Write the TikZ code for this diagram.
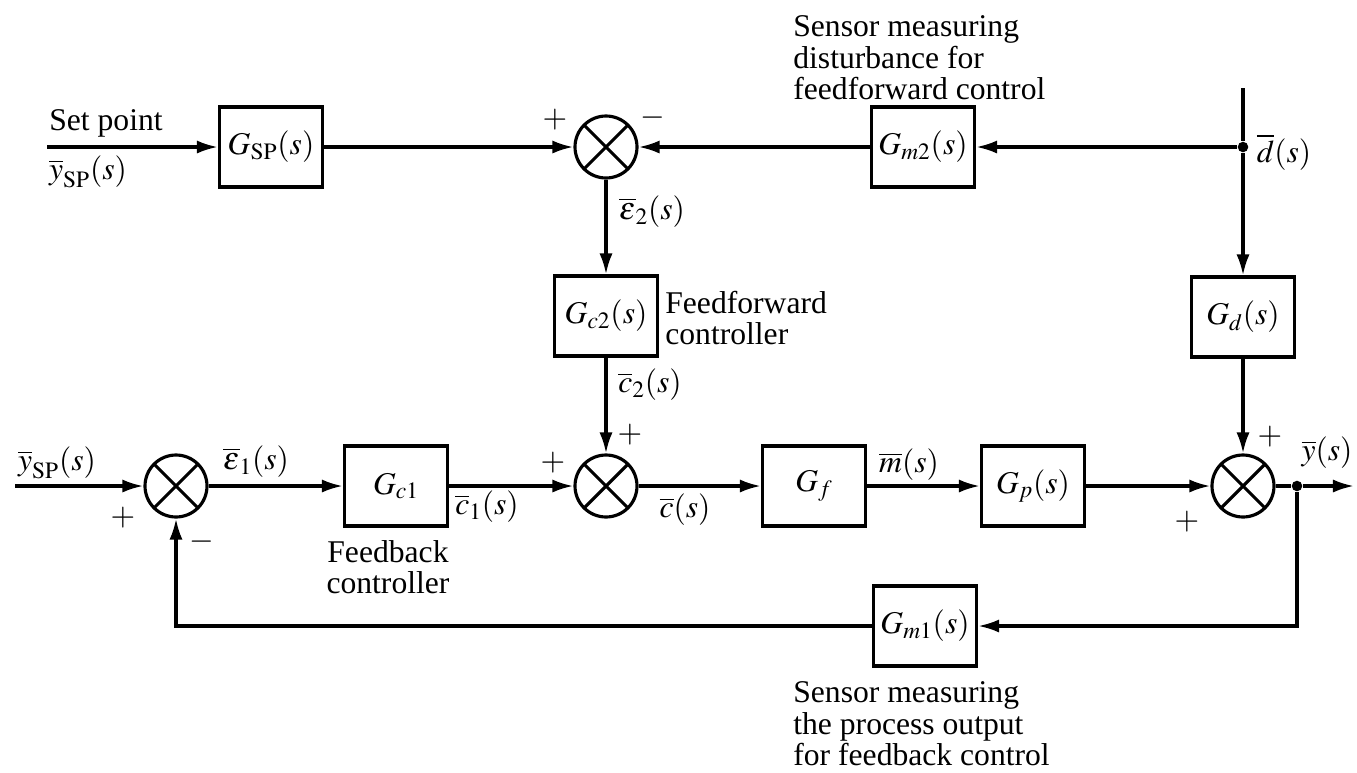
\documentclass[tikz,border=0pt]{standalone}
\usepackage{mathptmx}
\usepackage{fontspec}
\setmainfont{Liberation Serif}
\usetikzlibrary{arrows.meta}

\tikzset{
  blk/.style={draw, line width=1.8pt, minimum width=2.06cm, minimum height=1.6cm, inner sep=0pt},
  sumjn/.style={draw, circle, line width=1.8pt, minimum size=1.24cm, inner sep=0pt,
    path picture={\draw[line width=1.8pt]
      (path picture bounding box.north west) -- (path picture bounding box.south east)
      (path picture bounding box.north east) -- (path picture bounding box.south west);}},
  dot/.style={circle, fill, inner sep=0pt, minimum size=6pt},
  sig/.style={-{Latex[length=12pt,width=7.5pt]}, line width=1.8pt},
  wire/.style={line width=1.8pt},
  lbl/.style={inner sep=0pt},
  note/.style={inner sep=0pt, align=left},
}

\begin{document}
\begin{tikzpicture}[x=0.02cm, y=-0.02cm, font=\fontsize{18}{18}\selectfont]

% Parameters (pixel grid)
\def\ytop{147}   % upper signal row
\def\ybot{486}   % main loop row
\def\yfb{626}    % feedback row
\def\xd{1243}    % disturbance branch

\useasboundingbox (0,0) rectangle (1357,772);

% Upper row: set point and feedforward
\coordinate (spin) at (47,\ytop);
\node[blk] (gsp) at (271,\ytop) {$G_{\mathrm{SP}}(s)$};
\node[sumjn] (s1) at (606,\ytop) {};
\node[blk] (gm2) at (923,\ytop) {$G_{m2}(s)$};
\coordinate (dtop) at (\xd,88);
\node[dot] (djn) at (\xd,\ytop) {};
\node[blk] (gc2) at (606,316) {$G_{c2}(s)$};
\node[blk] (gd) at (\xd,317) {$G_d(s)$};

% Main loop
\coordinate (yspin) at (15,\ybot);
\node[sumjn] (s0) at (176,\ybot) {};
\node[blk] (gc1) at (396,\ybot) {$G_{c1}$};
\node[sumjn] (s2) at (606,\ybot) {};
\node[blk] (gf) at (814,\ybot) {$G_f$};
\node[blk] (gp) at (1033,\ybot) {$G_p(s)$};
\node[sumjn] (s3) at (\xd,\ybot) {};
\node[dot] (yjn) at (1297,\ybot) {};
\coordinate (yout) at (1354,\ybot);
\node[blk] (gm1) at (925,\yfb) {$G_{m1}(s)$};

% Connectors
\draw[sig] (spin) -- (gsp);
\draw[sig] (gsp) -- (s1);
\draw[sig] (gm2) -- (s1);
\draw[sig] (djn) -- (gm2);
\draw[wire] (dtop) -- (djn);
\draw[sig] (djn) -- (gd);
\draw[sig] (s1) -- (gc2);
\draw[sig] (gc2) -- (s2);
\draw[sig] (yspin) -- (s0);
\draw[sig] (s0) -- (gc1);
\draw[sig] (gc1) -- (s2);
\draw[sig] (s2) -- (gf);
\draw[sig] (gf) -- (gp);
\draw[sig] (gp) -- (s3);
\draw[sig] (gd) -- (s3);
\draw[wire] (s3) -- (yjn);
\draw[sig] (yjn) -- (yout);
\draw[sig] (yjn) |- (gm1);
\draw[sig] (gm1) -| (s0);

% Signal labels
\node[lbl] (spt) at (106,123) {Set point};
\node[lbl] (ysp1) at (88,172) {$\overline{y}_{\mathrm{SP}}(s)$};
\node[lbl] (dlbl) at (1284,152) {$\overline{d}(s)$};
\node[lbl] (e2) at (652,212) {$\overline{\epsilon}_2(s)$};
\node[lbl] (c2) at (650,385) {$\overline{c}_2(s)$};
\node[lbl] (ysp2) at (57,463) {$\overline{y}_{\mathrm{SP}}(s)$};
\node[lbl] (e1) at (256,462) {$\overline{\epsilon}_1(s)$};
\node[lbl] (c1) at (487,507) {$\overline{c}_1(s)$};
\node[lbl] (cc) at (685,510) {$\overline{c}(s)$};
\node[lbl] (mm) at (909,465) {$\overline{m}(s)$};
\node[lbl] (yy) at (1327,453) {$\overline{y}(s)$};

% Signs at the junctions
\node[lbl] (s1p) at (555,120) {$+$};
\node[lbl] (s1m) at (653,118) {$-$};
\node[lbl] (s0p) at (123,518) {$+$};
\node[lbl] (s0m) at (202,542) {$-$};
\node[lbl] (s2p) at (553,463) {$+$};
\node[lbl] (s2q) at (630,435) {$+$};
\node[lbl] (s3p) at (1270,437) {$+$};
\node[lbl] (s3q) at (1187,522) {$+$};

% Notes
\node[note, anchor=west] (ffsensor) at (793,58) {Sensor measuring\\disturbance for\\feedforward control};
\node[note, anchor=west] (ffctl) at (665,318) {Feedforward\\controller};
\node[note, align=center] (fbctl) at (388,567) {Feedback\\controller};
\node[note, anchor=west] (fbsensor) at (793,724) {Sensor measuring\\the process output\\for feedback control};

\end{tikzpicture}
\end{document}
